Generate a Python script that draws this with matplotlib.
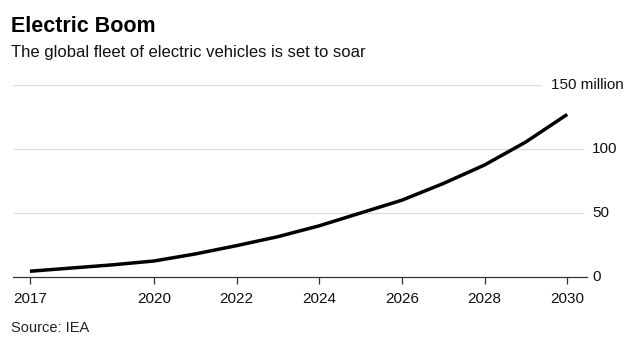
import matplotlib
matplotlib.use("Agg")
import matplotlib.pyplot as plt

plt.rcParams['font.family'] = ['Liberation Sans', 'DejaVu Sans']

# Global electric vehicle fleet, millions
years = [2017, 2018, 2019, 2020, 2021, 2022, 2023, 2024, 2025, 2026, 2027, 2028, 2029, 2030]
fleet = [4.5, 7, 9.5, 12.5, 18, 24.5, 31.5, 40, 50, 60, 73, 87.5, 105.5, 127]

xticks = [2017, 2020, 2022, 2024, 2026, 2028, 2030]
yticks = [0, 50, 100, 150]
ylabels = ['0', '50', '100', '150 million']

W, H = 634, 340
fig = plt.figure(figsize=(W / 100, H / 100), dpi=100)

left, right, bottom, top = 13, 587, 277, 85
ax = fig.add_axes([left / W, (H - bottom) / H, (right - left) / W, (bottom - top) / H])
ax.set_xlim(2016.59, 2030.48)
ax.set_ylim(0, 150)
for s in ['top', 'right', 'left']:
    ax.spines[s].set_visible(False)
ax.spines['bottom'].set_color('#333333')
ax.spines['bottom'].set_linewidth(0.9)

# gridlines (top one stops short of its label)
for v in yticks[1:]:
    xmax = 2029.4 if v == 150 else 2030.4
    ax.hlines(v, 2016.59, xmax, color='#dedede', lw=1.0, zorder=0)

ax.plot(years, fleet, color='black', lw=2.5, solid_capstyle='butt', zorder=3)

ax.set_xticks(xticks)
ax.set_xticklabels([str(x) for x in xticks], fontsize=11, color='#111111')
ax.tick_params(axis='x', direction='out', length=5, width=0.9, color='#333333', pad=6)
ax.set_yticks([])

for v, lab in zip(yticks, ylabels):
    xpos = 2029.6 if v == 150 else 2030.6
    ax.text(xpos, v, lab, fontsize=11, va='center', ha='left', color='#111111')

fig.text(11 / W, 1 - 27 / H, 'Electric Boom', fontsize=15.5, fontweight='bold',
         va='center', ha='left', color='black')
fig.text(11 / W, 1 - 53 / H, 'The global fleet of electric vehicles is set to soar',
         fontsize=12, va='center', ha='left', color='#111111')
fig.text(11 / W, 1 - 328 / H, 'Source: IEA', fontsize=10.5,
         va='center', ha='left', color='#222222')

fig.savefig('out.png', dpi=100, facecolor='white')
